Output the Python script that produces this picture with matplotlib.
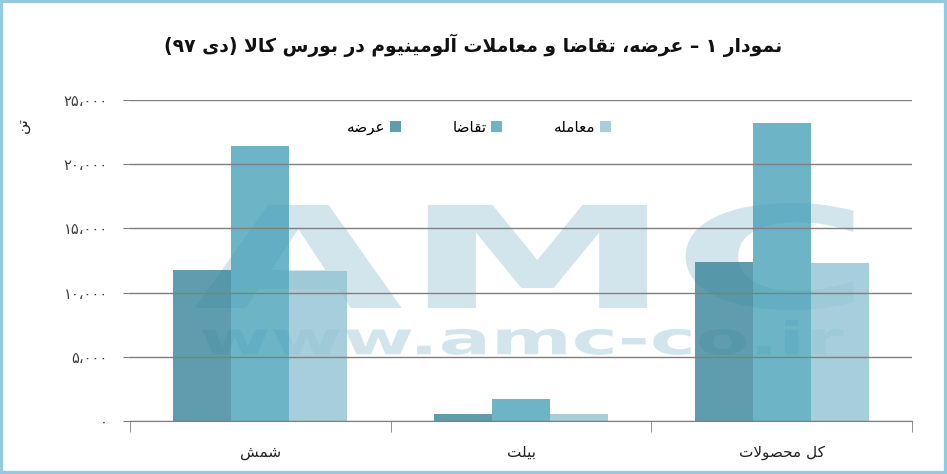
import numpy as np
import matplotlib.pyplot as plt
from matplotlib.patches import Rectangle, PathPatch
from matplotlib.textpath import TextPath
from matplotlib.font_manager import FontProperties
from matplotlib.transforms import Affine2D

# data (tons)
categories = ['شمش', 'بیلت', 'کل محصولات']
series_names = ['عرضه', 'تقاضا', 'معامله']
supply = [11750, 550, 12350]
demand = [21400, 1700, 23200]
traded = [11700, 520, 12300]
yticks = [0, 5000, 10000, 15000, 20000, 25000]
ytick_labels = ['۰', '۵،۰۰۰', '۱۰،۰۰۰', '۱۵،۰۰۰', '۲۰،۰۰۰', '۲۵،۰۰۰']
title = 'نمودار ۱ – عرضه، تقاضا و معاملات آلومینیوم در بورس کالا (دی ۹۷)'
ylabel = 'تن'

colors = ['#37849a', '#48a1ba', '#91c2d2']

# matplotlib does no arabic shaping / bidi, so do a small version here
FORMS = {  # isolated, final, initial, medial
    'ا': ('\uFE8D', '\uFE8E', None, None),
    'آ': ('\uFE81', '\uFE82', None, None),
    'ب': ('\uFE8F', '\uFE90', '\uFE91', '\uFE92'),
    'ت': ('\uFE95', '\uFE96', '\uFE97', '\uFE98'),
    'ح': ('\uFEA1', '\uFEA2', '\uFEA3', '\uFEA4'),
    'د': ('\uFEA9', '\uFEAA', None, None),
    'ر': ('\uFEAD', '\uFEAE', None, None),
    'س': ('\uFEB1', '\uFEB2', '\uFEB3', '\uFEB4'),
    'ش': ('\uFEB5', '\uFEB6', '\uFEB7', '\uFEB8'),
    'ص': ('\uFEB9', '\uFEBA', '\uFEBB', '\uFEBC'),
    'ض': ('\uFEBD', '\uFEBE', '\uFEBF', '\uFEC0'),
    'ع': ('\uFEC9', '\uFECA', '\uFECB', '\uFECC'),
    'ق': ('\uFED5', '\uFED6', '\uFED7', '\uFED8'),
    'ل': ('\uFEDD', '\uFEDE', '\uFEDF', '\uFEE0'),
    'م': ('\uFEE1', '\uFEE2', '\uFEE3', '\uFEE4'),
    'ن': ('\uFEE5', '\uFEE6', '\uFEE7', '\uFEE8'),
    'ه': ('\uFEE9', '\uFEEA', '\uFEEB', '\uFEEC'),
    'و': ('\uFEED', '\uFEEE', None, None),
    'ی': ('\uFBFC', '\uFBFD', '\uFBFE', '\uFBFF'),
    'ک': ('\uFB8E', '\uFB8F', '\uFB90', '\uFB91'),
}
LAMALEF = {'ا': ('\uFEFB', '\uFEFC'), 'آ': ('\uFEF5', '\uFEF6')}
DIGITS = set('0123456789۰۱۲۳۴۵۶۷۸۹')
MIRROR = {'(': ')', ')': '('}


def dual(ch):
    return ch in FORMS and FORMS[ch][2] is not None


def shape_run(run):
    out = []
    i = 0
    while i < len(run):
        ch = run[i]
        prev_join = i > 0 and dual(run[i - 1])
        if ch == 'ل' and i + 1 < len(run) and run[i + 1] in LAMALEF:
            out.append(LAMALEF[run[i + 1]][1 if prev_join else 0])
            i += 2
            continue
        next_join = dual(ch) and i + 1 < len(run)
        iso, fin, ini, med = FORMS[ch]
        if prev_join and next_join:
            out.append(med)
        elif prev_join:
            out.append(fin)
        elif next_join:
            out.append(ini)
        else:
            out.append(iso)
        i += 1
    return out


def fa(text):
    # shape letters, then lay the whole line out right to left (digit runs stay LTR)
    chars, run = [], ''
    for ch in text + '\0':
        if ch in FORMS:
            run += ch
            continue
        if run:
            chars += shape_run(run)
            run = ''
        if ch != '\0':
            chars.append(ch)
    tokens = []
    for ch in chars:
        if ch in DIGITS and tokens and tokens[-1][0] in DIGITS:
            tokens[-1] += ch
        else:
            tokens.append(ch)
    return ''.join(MIRROR.get(t, t) for t in reversed(tokens))


plt.rcParams['font.family'] = ['DejaVu Sans']

fig = plt.figure(figsize=(9.47, 4.74), dpi=100)
ax = fig.add_axes([130 / 947, 53 / 474, 782 / 947, 321 / 474])

x = np.arange(len(categories))
w = 0.2225
for k, vals in enumerate([supply, demand, traded]):
    ax.bar(x + (k - 1) * w, vals, w, color=colors[k], alpha=0.8,
           label=fa(series_names[k]), zorder=2)

# watermark
wm_color = '#d3e5ec'
for txt, box in [('AMC', (0.083, 0.346, 0.925, 0.679)),
                 ('www.amc-co.ir', (0.092, 0.206, 0.912, 0.315))]:
    tp = TextPath((0, 0), txt, size=100, prop=FontProperties(family='DejaVu Sans', weight='bold'))
    ext = tp.get_extents()
    tr = (Affine2D().translate(-ext.x0, -ext.y0)
          .scale((box[2] - box[0]) / ext.width, (box[3] - box[1]) / ext.height)
          .translate(box[0], box[1]))
    ax.add_patch(PathPatch(tp, transform=tr + ax.transAxes, facecolor=wm_color,
                           edgecolor='none', zorder=1))

ax.set_xlim(-0.5, 2.5)
ax.set_ylim(0, 25000)
ax.set_yticks(yticks)
ax.set_yticklabels(ytick_labels, fontsize=10.5, color='#404040')
ax.yaxis.grid(True, color='#7f7f7f', linewidth=1.0, zorder=3)
ax.set_axisbelow(False)
ax.tick_params(axis='y', length=5, color='#7f7f7f', pad=11)

ax.set_xticks(x)
ax.set_xticklabels([fa(c) for c in categories], fontsize=11, color='#202020')
ax.set_xticks([-0.5, 0.5, 1.5, 2.5], minor=True)
ax.tick_params(axis='x', which='major', length=0, pad=17)
ax.tick_params(axis='x', which='minor', length=8, color='#7f7f7f')

for s in ['left', 'right', 'top']:
    ax.spines[s].set_visible(False)
ax.spines['bottom'].set_color('#7f7f7f')
ax.spines['bottom'].set_zorder(4)

ax.legend(loc='center', bbox_to_anchor=(0.446, 0.915), ncol=3, frameon=False,
          markerfirst=False, fontsize=11, handlelength=0.7, handleheight=0.7,
          columnspacing=3.4, handletextpad=0.3)

fig.text(0.500, 0.905, fa(title), ha='center', va='center', fontsize=13.5,
         fontweight='bold', color='#111111')
fig.text(22 / 947, 1 - 125 / 474, fa(ylabel), rotation=90, ha='center', va='center',
         fontsize=11, color='#202020')

fig.add_artist(Rectangle((0, 0), 1, 1, transform=fig.transFigure, fill=False,
                         edgecolor='#92cbdd', linewidth=4.5))

fig.savefig('out.png', dpi=100)
